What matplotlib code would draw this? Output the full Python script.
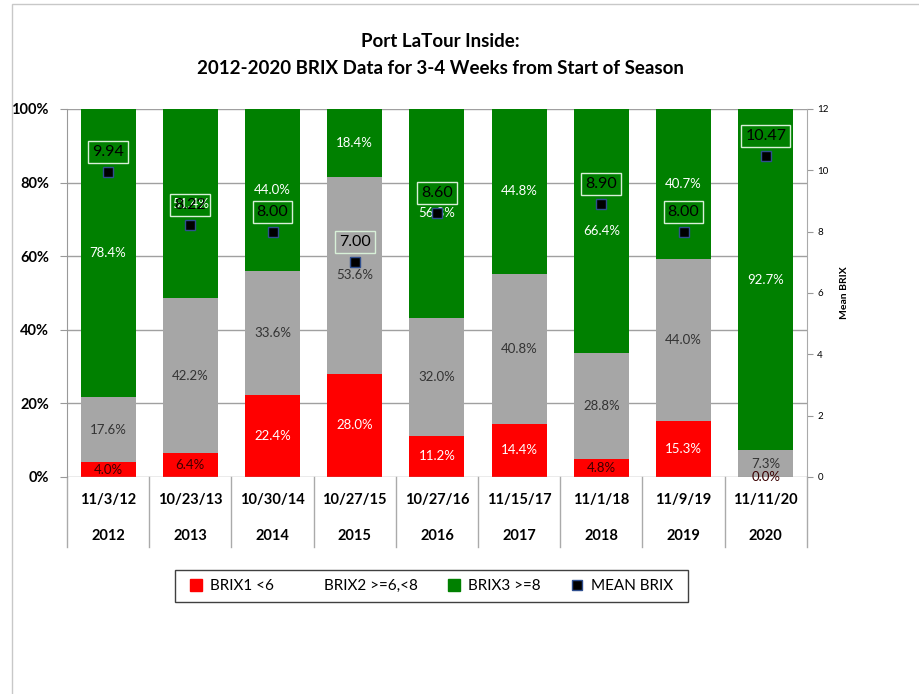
import matplotlib
matplotlib.use("Agg")
import numpy as np
from matplotlib import pyplot as plt
from matplotlib.patches import Patch, Rectangle
from matplotlib.lines import Line2D

plt.rcParams['font.family'] = ['Lato', 'DejaVu Sans']

dates = ["11/3/12", "10/23/13", "10/30/14", "10/27/15", "10/27/16",
         "11/15/17", "11/1/18", "11/9/19", "11/11/20"]
years = ["2012", "2013", "2014", "2015", "2016", "2017", "2018", "2019", "2020"]
brix1 = [4.0, 6.4, 22.4, 28.0, 11.2, 14.4, 4.8, 15.3, 0.0]
brix2 = [17.6, 42.2, 33.6, 53.6, 32.0, 40.8, 28.8, 44.0, 7.3]
brix3 = [78.4, 51.4, 44.0, 18.4, 56.8, 44.8, 66.4, 40.7, 92.7]
mean_brix = [9.94, 8.22, 8.00, 7.00, 8.60, np.nan, 8.90, 8.00, 10.47]

RED = "#ff0000"
GRAY = "#a6a6a6"
GREEN = "#008000"

fig = plt.figure(figsize=(9.19, 6.94), dpi=100)
ax = fig.add_axes([0.0729, 0.3127, 0.8051, 0.5303])

x = np.arange(len(years))
b1 = np.array(brix1)
b2 = np.array(brix2)
b3 = np.array(brix3)
w = 0.67

ax.bar(x, b1, w, color=RED, zorder=2)
ax.bar(x, b2, w, bottom=b1, color=GRAY, zorder=2)
ax.bar(x, b3, w, bottom=b1 + b2, color=GREEN, zorder=2)

# segment labels
for i in range(len(x)):
    c1 = "white" if b1[i] > 10 else "#3a0000"
    ax.text(x[i], b1[i] / 2, f"{b1[i]:.1f}%", ha="center", va="center",
            fontsize=9.5, color=c1, zorder=4)
    ax.text(x[i], b1[i] + b2[i] / 2, f"{b2[i]:.1f}%", ha="center", va="center",
            fontsize=9.5, color="#333333", zorder=4)
    ax.text(x[i], b1[i] + b2[i] + b3[i] / 2, f"{b3[i]:.1f}%", ha="center",
            va="center", fontsize=9.5, color="white", zorder=4)

ax.set_xlim(-0.5, len(x) - 0.5)
ax.set_ylim(0, 100)
ax.set_yticks([0, 20, 40, 60, 80, 100])
ax.set_yticklabels(["0%", "20%", "40%", "60%", "80%", "100%"],
                   fontsize=10.5, fontweight="bold")
ax.tick_params(axis="y", direction="out", length=5, color="#999999", pad=8)
ax.set_xticks([])
for yv in [20, 40, 60, 80, 100]:
    ax.axhline(yv, color="#a0a0a0", lw=1, zorder=1)
for s in ["top", "bottom", "right"]:
    ax.spines[s].set_visible(False)
ax.spines["left"].set_color("#999999")
ax.axhline(0, color="#999999", lw=1, zorder=3)

# multi-level category axis
trans = ax.get_xaxis_transform()
for i in range(len(x)):
    ax.text(x[i], -0.062, dates[i], transform=trans, ha="center", va="center",
            fontsize=10.5, fontweight="bold")
    ax.text(x[i], -0.16, years[i], transform=trans, ha="center", va="center",
            fontsize=10.5, fontweight="bold")
for b in np.arange(-0.5, len(x), 1.0):
    ax.plot([b, b], [0, -0.19], transform=trans, color="#aaaaaa", lw=1,
            clip_on=False)

# mean brix on secondary axis
ax2 = ax.twinx()
ax2.set_ylim(0, 12)
ax2.set_yticks(range(0, 13, 2))
ax2.tick_params(axis="y", labelsize=7, direction="out", length=4,
                color="#999999")
for s in ["top", "bottom", "left"]:
    ax2.spines[s].set_visible(False)
ax2.spines["right"].set_color("#aaaaaa")
ax2.set_ylabel("Mean BRIX", fontsize=7.5, fontweight="bold", labelpad=8)
ax2.plot(x, mean_brix, linestyle="none", marker="s", markersize=7,
         markerfacecolor="black", markeredgecolor="#2f4f8f", zorder=5)
for i in range(len(x)):
    if np.isnan(mean_brix[i]):
        continue
    ax2.annotate(f"{mean_brix[i]:.2f}", (x[i], mean_brix[i]),
                 xytext=(0, 20), textcoords="offset pixels",
                 ha="center", va="center", fontsize=11.5, color="black",
                 bbox=dict(boxstyle="square,pad=0.25", fc="none",
                           ec="#d8f0d8", lw=1), zorder=6)

fig.text(0.479, 0.94, "Port LaTour Inside:", ha="center", va="center",
         fontsize=13.5, fontweight="bold")
fig.text(0.479, 0.902, "2012-2020 BRIX Data for 3-4 Weeks from Start of Season",
         ha="center", va="center", fontsize=13.5, fontweight="bold")

handles = [
    Patch(facecolor=RED, edgecolor=RED),
    Patch(facecolor="none", edgecolor="none"),
    Patch(facecolor=GREEN, edgecolor=GREEN),
    Line2D([], [], linestyle="none", marker="s", markersize=7,
           markerfacecolor="black", markeredgecolor="#2f4f8f"),
]
labels = ["BRIX1 <6", "BRIX2 >=6,<8", "BRIX3 >=8", "MEAN BRIX"]
leg = fig.legend(handles, labels, loc="center", bbox_to_anchor=(0.4695, 0.1556),
                 ncol=4, fontsize=11, frameon=False,
                 handlelength=0.8, handleheight=0.8, handletextpad=0.5,
                 columnspacing=2.0, borderpad=0.5)
# legend frame
fig.add_artist(Rectangle((175 / 919, 1 - 602 / 694), 513 / 919, 32 / 694,
                         transform=fig.transFigure, fill=False,
                         ec="#404040", lw=1))

# outer chart border
fig.add_artist(Rectangle((12 / 919, -0.01), 1.0, 1.004,
                         transform=fig.transFigure, fill=False,
                         ec="#c8c8c8", lw=1))

fig.savefig("out.png", dpi=100)
